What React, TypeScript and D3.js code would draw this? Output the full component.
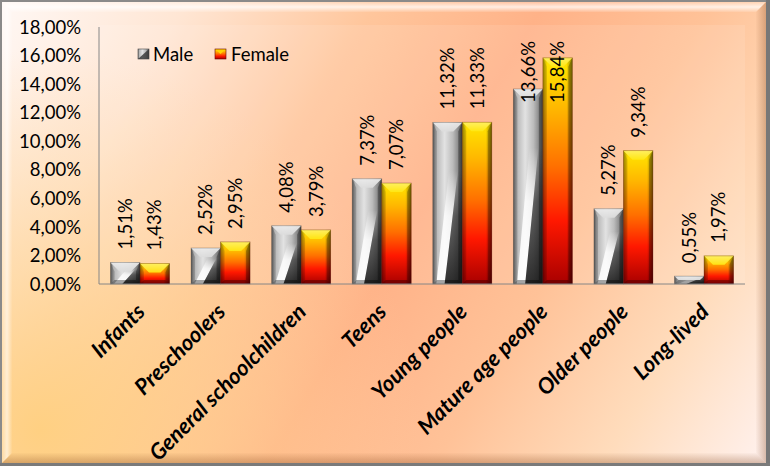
import React from "react";
import * as d3 from "d3";

const categories = [
  "Infants",
  "Preschoolers",
  "General schoolchildren",
  "Teens",
  "Young people",
  "Mature age people",
  "Older people",
  "Long-lived",
];
const seriesNames = ["Male", "Female"];
const maleValues = [1.51, 2.52, 4.08, 7.37, 11.32, 13.66, 5.27, 0.55];
const femaleValues = [1.43, 2.95, 3.79, 7.07, 11.33, 15.84, 9.34, 1.97];
const yTicks = [0, 2, 4, 6, 8, 10, 12, 14, 16, 18];

const W = 770;
const H = 466;
const FONT = "Lato, Carlito, Calibri, 'Noto Sans', sans-serif";

const fmt = (v: number) => d3.format(".2f")(v).replace(".", ",") + "%";

export default function App() {
  const x0 = d3
    .scaleBand<string>()
    .domain(categories)
    .range([99.7, 744.3])
    .paddingInner(0.268)
    .paddingOuter(0.134);
  const x1 = d3
    .scaleBand<string>()
    .domain(seriesNames)
    .range([0, x0.bandwidth()])
    .padding(0);
  const y = d3.scaleLinear().domain([0, 18]).range([284, 27]);

  const plotLeft = 99;
  const plotRight = 745;
  const plotTop = 25;

  const bars: any[] = [];
  categories.forEach((c, i) => {
    [maleValues[i], femaleValues[i]].forEach((v, s) => {
      const bx = (x0(c) as number) + (x1(seriesNames[s]) as number);
      const bw = x1.bandwidth();
      const by = y(v);
      const bh = y(0) - by;
      bars.push({ c, s, v, bx, bw, by, bh, key: c + s });
    });
  });

  const bevel = (b: any) => {
    const { bx: x, by: yy, bw: w, bh: h } = b;
    const d = Math.min(9, h / 2, w / 2);
    const e = Math.min(4, h / 2);
    const sd = Math.min(4, w / 2);
    return {
      top: `M${x},${yy} L${x + w},${yy} L${x + w - d},${yy + d} L${x + d},${yy + d} Z`,
      left: `M${x},${yy} L${x + sd},${yy + d} L${x + sd},${yy + h - e} L${x},${yy + h} Z`,
      right: `M${x + w},${yy} L${x + w},${yy + h} L${x + w - sd},${yy + h - e} L${x + w - sd},${yy + d} Z`,
      bottom: `M${x},${yy + h} L${x + sd},${yy + h - e} L${x + w - sd},${yy + h - e} L${x + w},${yy + h} Z`,
    };
  };

  const maleStreak = (b: any) => {
    const { bx: x, by: yy, bw: w, bh: h } = b;
    const t = yy + h * 0.3;
    return {
      dark: `M${x + w * 0.85},${t} Q${x + w * 0.6},${yy + h * 0.7} ${x + w * 0.4},${yy + h} L${x + w},${yy + h} L${x + w},${t} Z`,
      light: `M${x + w * 0.55},${t} Q${x + w * 0.3},${yy + h * 0.7} ${x + w * 0.12},${yy + h} L${x + w * 0.4},${yy + h} Q${x + w * 0.6},${yy + h * 0.7} ${x + w * 0.85},${t} Z`,
    };
  };

  const labelGap = 13;
  const labelTopLimit = 41;

  return (
    <div style={{ width: W, height: H }}>
      <style>{`body{margin:0;}`}</style>
      <svg width={W} height={H} style={{ display: "block" }}>
        <defs>
          <linearGradient id="bg" gradientUnits="userSpaceOnUse" x1="0" y1="0" x2={W} y2={H}>
            <stop offset="0" stopColor="#fff8f5" />
            <stop offset="0.18" stopColor="#ffe6d4" />
            <stop offset="0.36" stopColor="#ffc69c" />
            <stop offset="0.52" stopColor="#ffb288" />
            <stop offset="0.68" stopColor="#ffc298" />
            <stop offset="0.84" stopColor="#ffdcbc" />
            <stop offset="1" stopColor="#fff2f0" />
          </linearGradient>
          <radialGradient id="bgYellow" gradientUnits="userSpaceOnUse" cx="40" cy="430" r="380">
            <stop offset="0" stopColor="#ffd080" stopOpacity="0.95" />
            <stop offset="0.5" stopColor="#ffd490" stopOpacity="0.5" />
            <stop offset="1" stopColor="#ffd8a0" stopOpacity="0" />
          </radialGradient>
          <linearGradient id="maleBase" x1="0" y1="0" x2="1" y2="0">
            <stop offset="0" stopColor="#6a6a6a" />
            <stop offset="0.1" stopColor="#b4b4b4" />
            <stop offset="0.4" stopColor="#e2e2e2" />
            <stop offset="0.68" stopColor="#bcbcbc" />
            <stop offset="0.86" stopColor="#8c8c8c" />
            <stop offset="1" stopColor="#555" />
          </linearGradient>
          <linearGradient id="maleDark" x1="0" y1="0" x2="0" y2="1">
            <stop offset="0" stopColor="#222" stopOpacity="0" />
            <stop offset="0.4" stopColor="#222" stopOpacity="0.6" />
            <stop offset="1" stopColor="#111" stopOpacity="0.85" />
          </linearGradient>
          <linearGradient id="maleLight" x1="0" y1="0" x2="0" y2="1">
            <stop offset="0" stopColor="#fff" stopOpacity="0" />
            <stop offset="0.4" stopColor="#fff" stopOpacity="0.8" />
            <stop offset="1" stopColor="#fff" stopOpacity="0.95" />
          </linearGradient>
          <linearGradient id="femaleBase" x1="0" y1="0" x2="0" y2="1">
            <stop offset="0" stopColor="#ffe800" />
            <stop offset="0.22" stopColor="#ffb800" />
            <stop offset="0.48" stopColor="#ff7000" />
            <stop offset="0.72" stopColor="#ff1800" />
            <stop offset="1" stopColor="#a80000" />
          </linearGradient>
          <linearGradient id="edges" x1="0" y1="0" x2="1" y2="0">
            <stop offset="0" stopColor="#000" stopOpacity="0.35" />
            <stop offset="0.15" stopColor="#000" stopOpacity="0" />
            <stop offset="0.8" stopColor="#000" stopOpacity="0" />
            <stop offset="1" stopColor="#000" stopOpacity="0.45" />
          </linearGradient>
          <linearGradient id="topBevelWhite" x1="0" y1="0" x2="0" y2="1">
            <stop offset="0" stopColor="#fff" stopOpacity="0.75" />
            <stop offset="1" stopColor="#fff" stopOpacity="0.15" />
          </linearGradient>
          <linearGradient id="frameTop" x1="0" y1="0" x2="0" y2="1">
            <stop offset="0" stopColor="#fff" stopOpacity="0.2" />
            <stop offset="0.5" stopColor="#fff" stopOpacity="0.75" />
            <stop offset="1" stopColor="#fff" stopOpacity="0.1" />
          </linearGradient>
          <linearGradient id="frameLeft" x1="0" y1="0" x2="1" y2="0">
            <stop offset="0" stopColor="#fff" stopOpacity="0.2" />
            <stop offset="0.5" stopColor="#fff" stopOpacity="0.6" />
            <stop offset="1" stopColor="#fff" stopOpacity="0.05" />
          </linearGradient>
          <linearGradient id="frameRight" x1="0" y1="0" x2="1" y2="0">
            <stop offset="0" stopColor="#7a3a10" stopOpacity="0.02" />
            <stop offset="1" stopColor="#7a3a10" stopOpacity="0.3" />
          </linearGradient>
          <linearGradient id="frameBottom" x1="0" y1="0" x2="0" y2="1">
            <stop offset="0" stopColor="#7a3a10" stopOpacity="0.02" />
            <stop offset="1" stopColor="#7a3a10" stopOpacity="0.3" />
          </linearGradient>
        </defs>

        {/* background frame */}
        <rect x={0} y={0} width={W} height={H} fill="#8a8a8a" />
        <rect x={2} y={2} width={W - 6} height={H - 5} fill="url(#bg)" />
        <rect x={2} y={2} width={W - 6} height={H - 5} fill="url(#bgYellow)" />
        <rect x={W - 4} y={0} width={4} height={H} fill="#777" />
        <rect x={0} y={H - 3} width={W} height={3} fill="#7a7a7a" />
        <path d={`M2,2 L${W - 4},2 L${W - 14},12 L12,12 Z`} fill="url(#frameTop)" />
        <path d={`M2,2 L12,12 L12,${H - 13} L2,${H - 3} Z`} fill="url(#frameLeft)" />
        <path d={`M${W - 4},2 L${W - 4},${H - 3} L${W - 14},${H - 13} L${W - 14},12 Z`} fill="url(#frameRight)" />
        <path d={`M2,${H - 3} L12,${H - 13} L${W - 14},${H - 13} L${W - 4},${H - 3} Z`} fill="url(#frameBottom)" />

        {/* plot area */}
        <rect x={plotLeft} y={plotTop} width={plotRight - plotLeft} height={y(0) - plotTop} fill="#fff" opacity={0.1} />

        {/* y axis labels */}
        {yTicks.map((t) => (
          <text
            key={t}
            x={81}
            y={y(t)}
            dy="0.36em"
            textAnchor="end"
            fontFamily={FONT}
            fontSize={18.5}
            fill="#000"
          >
            {fmt(t)}
          </text>
        ))}

        {/* bars */}
        {bars.map((b) => {
          const bv = bevel(b);
          if (b.s === 0) {
            const st = maleStreak(b);
            return (
              <g key={b.key}>
                <rect x={b.bx} y={b.by} width={b.bw} height={b.bh} fill="url(#maleBase)" />
                <path d={st.light} fill="url(#maleLight)" />
                <path d={st.dark} fill="url(#maleDark)" />
                <path d={bv.top} fill="#d8d8d8" opacity={0.9} />
                <path d={bv.top} fill="url(#topBevelWhite)" opacity={0.6} />
                <path d={bv.left} fill="#000" opacity={0.2} />
                <path d={bv.right} fill="#000" opacity={0.3} />
                <path d={bv.bottom} fill="#000" opacity={0.35} />
                <rect x={b.bx} y={b.by} width={b.bw} height={b.bh} fill="none" stroke="#333" strokeOpacity={0.35} strokeWidth={0.8} />
              </g>
            );
          }
          return (
            <g key={b.key}>
              <rect x={b.bx} y={b.by} width={b.bw} height={b.bh} fill="url(#femaleBase)" />
              <rect x={b.bx} y={b.by} width={b.bw} height={b.bh} fill="url(#edges)" />
              <path d={bv.top} fill="#ffe600" opacity={0.9} />
              <path d={bv.top} fill="url(#topBevelWhite)" opacity={0.5} />
              <path d={bv.left} fill="#000" opacity={0.1} />
              <path d={bv.right} fill="#000" opacity={0.25} />
              <path d={bv.bottom} fill="#000" opacity={0.3} />
              <rect x={b.bx} y={b.by} width={b.bw} height={b.bh} fill="none" stroke="#400" strokeOpacity={0.35} strokeWidth={0.8} />
            </g>
          );
        })}

        {/* axes */}
        <line x1={plotLeft} x2={plotLeft} y1={27} y2={y(0)} stroke="#868686" strokeWidth={1} />
        <line x1={plotLeft} x2={plotRight} y1={y(0)} y2={y(0)} stroke="#868686" strokeWidth={1} />

        {/* value labels */}
        {bars.map((b) => {
          const label = fmt(b.v);
          const cx = b.bx + b.bw / 2;
          const start = b.by - labelGap;
          const estLen = label.length * 11;
          const clamp = start - estLen < labelTopLimit;
          const ay = clamp ? labelTopLimit : start;
          return (
            <text
              key={"l" + b.key}
              transform={`translate(${cx},${ay}) rotate(-90)`}
              dy="0.36em"
              textAnchor={clamp ? "end" : "start"}
              fontFamily={FONT}
              fontSize={18.5}
              fill="#000"
            >
              {label}
            </text>
          );
        })}

        {/* category labels */}
        {categories.map((c) => {
          const cx = (x0(c) as number) + x0.bandwidth() / 2;
          return (
            <text
              key={"c" + c}
              transform={`translate(${cx - 5},${302}) rotate(-45)`}
              dy="0.72em"
              textAnchor="end"
              fontFamily={FONT}
              fontWeight="bold"
              fontStyle="italic"
              fontSize={22}
              fill="#000"
            >
              {c}
            </text>
          );
        })}

        {/* legend */}
        <g>
          <rect x={138} y={49} width={11} height={10} fill="url(#maleBase)" />
          <path d="M138,59 L149,49 L149,59 Z" fill="#333" opacity={0.8} />
          <rect x={138} y={49} width={11} height={10} fill="none" stroke="#444" strokeWidth={0.6} />
          <text x={153} y={54} dy="0.36em" fontFamily={FONT} fontSize={18.5} fill="#000">
            {seriesNames[0]}
          </text>
          <rect x={215} y={49} width={11} height={10} fill="url(#femaleBase)" />
          <path d="M215,49 L226,49 L220.5,54 Z" fill="#ffd200" />
          <rect x={215} y={49} width={11} height={10} fill="none" stroke="#600" strokeWidth={0.6} />
          <text x={231} y={54} dy="0.36em" fontFamily={FONT} fontSize={18.5} fill="#000">
            {seriesNames[1]}
          </text>
        </g>
      </svg>
    </div>
  );
}
